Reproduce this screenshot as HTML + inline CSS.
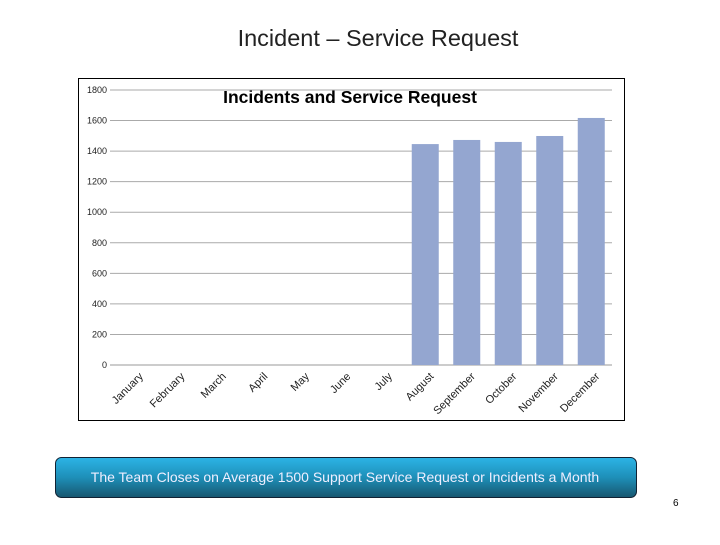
<!DOCTYPE html>
<html><head><meta charset="utf-8"><style>
body{margin:0;width:720px;height:540px;background:#fff;overflow:hidden;font-family:"Liberation Sans",sans-serif}
</style></head><body>
<svg width="720" height="540" viewBox="0 0 720 540">
<defs><linearGradient id="bg" x1="0" y1="0" x2="0" y2="1"><stop offset="0" stop-color="#2cb4e6"/><stop offset="0.5" stop-color="#1e8fb8"/><stop offset="1" stop-color="#17566f"/></linearGradient></defs>
<text x="378" y="46" text-anchor="middle" font-size="23.5" fill="#222">Incident – Service Request</text>
<rect x="78.5" y="78.5" width="546" height="342" fill="#fff" stroke="#000"/>
<text x="350" y="103" text-anchor="middle" font-size="17.5" font-weight="bold" fill="#000">Incidents and Service Request</text>
<g id="grid"></g><g id="bars"></g><g id="xl"></g>
<rect x="55.5" y="457.5" width="581" height="40" rx="6" fill="url(#bg)" stroke="#123"/>
<text x="345" y="482" text-anchor="middle" font-size="14" fill="#eef">The Team Closes on Average 1500  Support Service Request or Incidents a Month</text>
<text x="673" y="506" font-size="10" fill="#000">6</text>
</svg>
<script>
const categories=["January","February","March","April","May","June","July","August","September","October","November","December"];
const values=[0,0,0,0,0,0,0,1446,1473,1460,1499,1617];
const yTicks=[0,200,400,600,800,1000,1200,1400,1600,1800];
const NS="http://www.w3.org/2000/svg";
const x0=114,x1=612,y0=365,ppu=275/1800,w=(x1-x0)/12;
const ys=v=>y0-v*ppu, xs=i=>x0+(i+0.5)*w;
function mk(t,a,p){const e=document.createElementNS(NS,t);for(const k in a)e.setAttribute(k,a[k]);p.appendChild(e);return e;}
const g=document.getElementById('grid');
yTicks.forEach(v=>{
 const l=mk('line',{x1:x0-4,x2:x1,y1:ys(v),y2:ys(v),stroke:v===0?'#999':'#aaa','stroke-width':1},g);
 
 
 const t=mk('text',{x:107,y:ys(v)+3,'text-anchor':'end','font-size':9,fill:'#222'},g);t.textContent=v;
 
 
});
const b=document.getElementById('bars');
values.forEach((v,i)=>{
 if(v<=0)return;
 const r=mk('rect',{x:xs(i)-13.5,y:ys(v),width:27,height:v*ppu,fill:'#94a6d0'},b);
 
 
});
const xl=document.getElementById('xl');
categories.forEach((c,i)=>{
 const cx=xs(i)+9,cy=377;
 const t=mk('text',{x:cx,y:cy,'text-anchor':'end','font-size':11,fill:'#222',transform:`rotate(-45 ${cx} ${cy})`},xl);
 t.textContent=c;
 
 
});
</script>
</body></html>
